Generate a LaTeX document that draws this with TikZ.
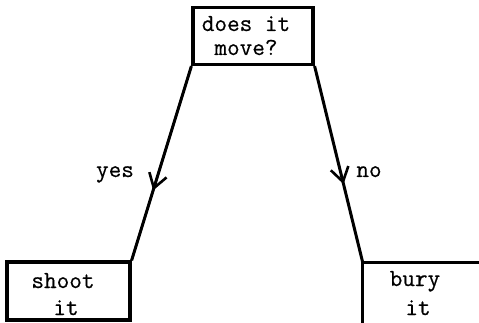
\documentclass[tikz,border=0pt]{standalone}
\usepackage{fontspec}
\newfontfamily\twfont{Latin Modern Mono}[FakeBold=0.5]
\usetikzlibrary{arrows.meta,decorations.markings}
\begin{document}
\begin{tikzpicture}[x=1pt,y=-1pt,
  boxline/.style={draw=black,line width=3.2pt},
  txt/.style={font=\twfont\fontsize{24.5}{26}\selectfont,align=center,inner sep=0pt,anchor=base},
  flow/.style={line width=3pt,postaction={decorate},
    decoration={markings,mark=at position #1 with {\arrow{Straight Barb[length=14pt,width=18pt,line width=2.6pt]}}}}
]
\useasboundingbox (0,0) rectangle (479,323);
% boxes
\node[boxline,minimum width=120pt,minimum height=57pt,inner sep=0pt] (q) at (253,36) {};
\node[boxline,minimum width=123pt,minimum height=58pt,inner sep=0pt] (s) at (68.5,291) {};
\node[minimum width=140pt,minimum height=80pt,inner sep=0pt] (b) at (433,303) {};
\draw[boxline,line cap=rect] (b.south west) -- (b.north west) -- (b.north east);
% texts
\node[txt] (qt1) at (246,31) {does it};
\node[txt] (qt2) at (246,55) {move?};
\node[txt] (st1) at (63,288) {shoot};
\node[txt] (st2) at (66,315) {it};
\node[txt] (bt1) at (415,286) {bury};
\node[txt] (bt2) at (418,315) {it};
\node[txt] (yes) at (115,177) {yes};
\node[txt] (no) at (369,177) {no};
% connectors
\draw[flow=0.64] (q.south west) -- (s.north east);
\draw[flow=0.6] (q.south east) -- (b.north west);
\end{tikzpicture}
\end{document}
